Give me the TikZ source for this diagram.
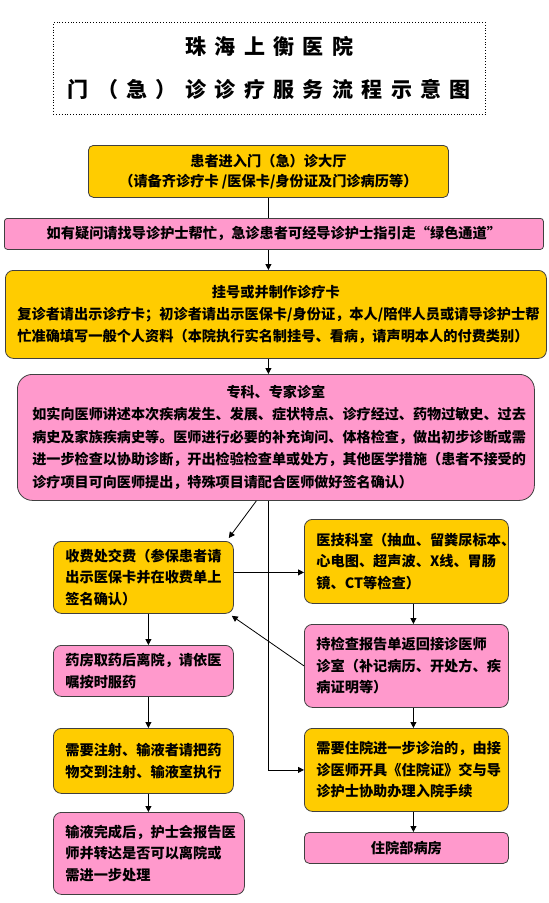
\documentclass[tikz,border=0pt]{standalone}
\usepackage{fontspec}
\setmainfont{Noto Sans CJK SC}
\newfontfamily\titrefont{Noto Sans CJK SC}[LetterSpace=40]
\usepackage{xcolor}
\usepackage{tikz}
\usetikzlibrary{arrows.meta,positioning,calc}
\definecolor{jauneC}{RGB}{255,204,0}
\definecolor{roseC}{RGB}{255,153,204}
\definecolor{bordC}{RGB}{64,64,64}
\tikzset{
  boite/.style={rectangle, rounded corners=8pt, draw=bordC, line width=0.8pt, fill=#1,
                align=left, anchor=north west, inner xsep=12pt, inner ysep=2pt,
                font=\fontsize{14.2}{21.5}\selectfont\bfseries},
  bandeau/.style={rectangle, rounded corners=3pt, draw=bordC, line width=0.8pt, fill=#1,
                  align=center, anchor=north west, inner sep=2pt,
                  font=\fontsize{14.2}{20}\selectfont\bfseries},
  arr/.style={-{Triangle[length=6pt,width=6pt]}, line width=0.8pt, draw=black},
  lien/.style={line width=0.8pt, draw=black},
}

\begin{document}
\begin{tikzpicture}[x=1pt, y=-1pt]
  \useasboundingbox (0,0) rectangle (549,903);
  % titre
  \node[draw, dotted, line width=0.8pt, anchor=north west, minimum width=432pt, minimum height=92pt,
        align=center, font=\titrefont\fontsize{21}{43}\selectfont\bfseries] (titre) at (53,22)
    {珠海上衡医院\\门（急）诊诊疗服务流程示意图};
  % colonne principale
  \node[bandeau=jauneC, rounded corners=5pt, minimum width=360pt, minimum height=52pt] (hall) at (88,145)
    {患者进入门（急）诊大厅\\（请备齐诊疗卡 /医保卡/身份证及门诊病历等）};
  \node[bandeau=roseC, minimum width=539pt, minimum height=31pt] (help) at (4,218)
    {如有疑问请找导诊护士帮忙，急诊患者可经导诊护士指引走“绿色通道”};
  \node[boite=jauneC, minimum width=541pt, minimum height=88pt, text width=517pt,
        font=\fontsize{14.2}{22}\selectfont\bfseries] (reg) at (5,270)
    {\makebox[\hsize]{挂号或并制作诊疗卡}\\
     复诊者请出示诊疗卡；初诊者请出示医保卡/身份证，本人/陪伴人员或请导诊护士帮\\
     忙准确填写一般个人资料（本院执行实名制挂号、看病，请声明本人的付费类别）};
  \node[boite=roseC, rounded corners=15pt, inner xsep=15pt, minimum width=517pt, minimum height=126pt,
        text width=487pt, font=\fontsize{14.1}{22.5}\selectfont\bfseries] (dept) at (17,374)
    {\makebox[\hsize]{专科、专家诊室}\\
     如实向医师讲述本次疾病发生、发展、症状特点、诊疗经过、药物过敏史、过去\\
     病史及家族疾病史等。医师进行必要的补充询问、体格检查，做出初步诊断或需\\
     进一步检查以协助诊断，开出检验检查单或处方，其他医学措施（患者不接受的\\
     诊疗项目可向医师提出，特殊项目请配合医师做好签名确认）};
  % colonne gauche
  \node[boite=jauneC, minimum width=180pt, minimum height=72pt, text width=156pt] (fee) at (53,541)
    {收费处交费（参保患者请\\出示医保卡并在收费单上\\签名确认）};
  \node[boite=roseC, minimum width=180pt, minimum height=51pt, text width=156pt] (drug) at (53,645)
    {药房取药后离院，请依医\\嘱按时服药};
  \node[boite=jauneC, minimum width=180pt, minimum height=65pt, text width=156pt] (inj) at (53,728)
    {需要注射、输液者请把药\\物交到注射、输液室执行};
  \node[boite=roseC, minimum width=191pt, minimum height=82pt, text width=167pt] (drip) at (53,812)
    {输液完成后，护士会报告医\\师并转达是否可以离院或\\需进一步处理};
  % colonne droite
  \node[boite=jauneC, minimum width=204pt, minimum height=84pt, text width=180pt] (lab) at (304,519)
    {医技科室（抽血、留粪尿标本、\\心电图、超声波、X线、胃肠\\镜、CT等检查）};
  \node[boite=roseC, minimum width=204pt, minimum height=83pt, text width=180pt] (report) at (304,624)
    {持检查报告单返回接诊医师\\诊室（补记病历、开处方、疾\\病证明等）};
  \node[boite=jauneC, minimum width=204pt, minimum height=83pt, text width=180pt] (adm) at (304,728)
    {需要住院进一步诊治的，由接\\诊医师开具《住院证》交与导\\诊护士协助办理入院手续};
  \node[bandeau=roseC, rounded corners=5pt, minimum width=204pt, minimum height=31pt] (ward) at (304,832)
    {住院部病房};
  % liens
  \draw[lien] (hall.south) -- (hall.south |- help.north);
  \draw[arr] (hall.south |- help.south) -- (hall.south |- reg.north);
  \draw[arr] (hall.south |- reg.south) -- (hall.south |- dept.north);
  \draw[arr] (hall.south |- dept.south) |- (adm.west);
  \draw[arr] ($(hall.south |- dept.south)+(-12,0)$) -- ($(fee.north east)+(-5,-3)$);
  \draw[arr] ([yshift=5pt]fee.east) -- ([yshift=5pt]fee.east -| lab.west);
  \draw[arr] ([xshift=7pt]lab.south) -- ([xshift=7pt]report.north);
  \draw[arr] (report.west) -- ($(fee.south east)+(-2,2)$);
  \draw[arr] ([xshift=5pt]fee.south) -- ([xshift=5pt]drug.north);
  \draw[arr] ([xshift=5pt]drug.south) -- ([xshift=5pt]inj.north);
  \draw[arr] ([xshift=5pt]inj.south) -- ([xshift=5pt]inj.south |- drip.north);
  \draw[arr] ([xshift=7pt]report.south) -- ([xshift=7pt]adm.north);
  \draw[arr] ([xshift=7pt]adm.south) -- ([xshift=7pt]ward.north);
\end{tikzpicture}
\end{document}
